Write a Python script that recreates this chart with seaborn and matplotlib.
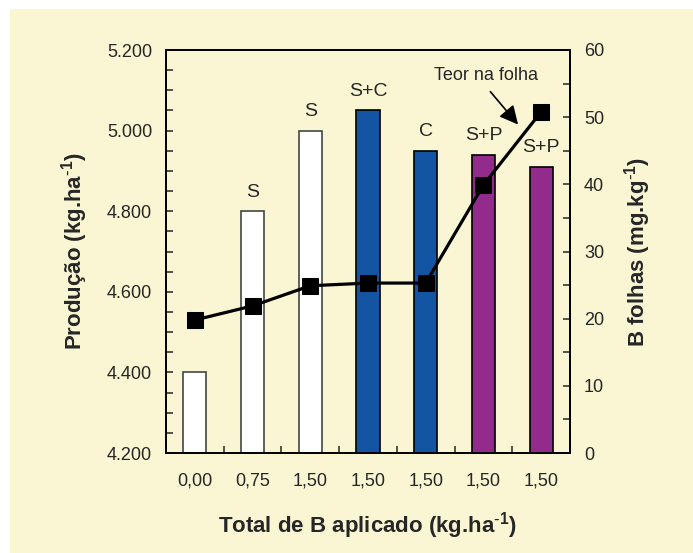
import matplotlib
matplotlib.use("Agg")
import matplotlib.pyplot as plt
from matplotlib.patches import Rectangle
from matplotlib.ticker import MultipleLocator, FixedLocator, FuncFormatter
import seaborn as sns
import pandas as pd

# data
doses = ["0,00", "0,75", "1,50", "1,50", "1,50", "1,50", "1,50"]
producao = [4400, 4800, 5000, 5050, 4950, 4940, 4910]
b_folhas = [19.8, 21.9, 24.9, 25.3, 25.3, 39.9, 50.8]
fontes = ["", "S", "S", "S+C", "C", "S+P", "S+P"]

bg = "#FAF5D2"
bar_colors = ["white", "white", "white", "#1354A3", "#1354A3", "#922B8B", "#922B8B"]
edge_colors = ["#444444", "#444444", "#444444", "black", "black", "black", "black"]

sns.set_theme(style="white")
plt.rcParams["font.family"] = ["Liberation Sans", "DejaVu Sans"]
plt.rcParams["mathtext.default"] = "regular"

fig = plt.figure(figsize=(6.93, 5.53), dpi=100)
fig.patch.set_facecolor("white")
fig.patches.append(Rectangle((10 / 693, 0), 1, 1 - 9 / 553, transform=fig.transFigure,
                             facecolor=bg, edgecolor="none", zorder=-10))

ax = fig.add_axes([166 / 693, 1 - 453 / 553, 404 / 693, 403 / 553])
ax.set_facecolor(bg)

df = pd.DataFrame({"pos": list(range(len(doses))), "prod": producao})
sns.barplot(data=df, x="pos", y="prod", hue="pos", palette=bar_colors, legend=False,
            width=0.4, saturation=1, ax=ax, zorder=2)
for patch, ec in zip(ax.patches, edge_colors):
    patch.set_edgecolor(ec)
    patch.set_linewidth(1.2)

ax.set_ylim(4200, 5200)
ax.set_xlim(-0.5, len(doses) - 0.5)
ax.yaxis.set_major_locator(MultipleLocator(200))
ax.yaxis.set_minor_locator(MultipleLocator(50))
ax.yaxis.set_major_formatter(FuncFormatter(lambda v, p: f"{v:,.0f}".replace(",", ".")))
ax.set_xticks(range(len(doses)))
ax.set_xticklabels(doses)
ax.xaxis.set_minor_locator(FixedLocator([i + 0.5 for i in range(len(doses) - 1)]))
ax.tick_params(axis="x", which="major", length=0, pad=14, labelsize=13)
ax.tick_params(axis="x", which="minor", direction="in", length=5, width=1.1, bottom=True)
ax.tick_params(axis="y", which="both", direction="in", length=5, width=1.1, left=True,
               labelsize=13, pad=10)
for s in ax.spines.values():
    s.set_linewidth(1.3)
    s.set_color("black")

for i, (v, lab) in enumerate(zip(producao, fontes)):
    if lab:
        ax.text(i, v + 26, lab, ha="center", va="bottom", fontsize=14)

ax.set_xlabel(r"Total de B aplicado (kg.ha$^{\text{-}1}$)", fontsize=16, fontweight="bold",
              labelpad=15)
ax.set_ylabel(r"Produção (kg.ha$^{\text{-}1}$)", fontsize=16, fontweight="bold", labelpad=12)

ax2 = ax.twinx()
line_df = pd.DataFrame({"pos": list(range(len(doses))), "teor": b_folhas})
sns.lineplot(data=line_df, x="pos", y="teor", ax=ax2, color="black", lw=2.3,
             marker="s", markersize=12, markeredgecolor="black", zorder=3)
ax2.set_ylim(0, 60)
ax2.set_xlim(-0.5, len(doses) - 0.5)
ax2.yaxis.set_major_locator(MultipleLocator(10))
ax2.yaxis.set_minor_locator(MultipleLocator(5))
ax2.tick_params(axis="y", which="both", direction="in", length=5, width=1.1, right=True,
                labelsize=13, pad=10)
ax2.set_ylabel(r"B folhas (mg.kg$^{\text{-}1}$)", fontsize=16, fontweight="bold", labelpad=13)
ax2.set_xlabel("")
for s in ax2.spines.values():
    s.set_linewidth(1.3)
    s.set_color("black")

ax2.text(5.05, 56.2, "Teor na folha", ha="center", va="center", fontsize=13)
ax2.annotate("", xy=(5.6, 48.9), xytext=(5.12, 53.8),
             arrowprops=dict(arrowstyle="-|>", color="black", lw=1.2,
                             mutation_scale=28, shrinkA=0, shrinkB=0))

fig.savefig("out.png", dpi=100, facecolor=fig.get_facecolor())
